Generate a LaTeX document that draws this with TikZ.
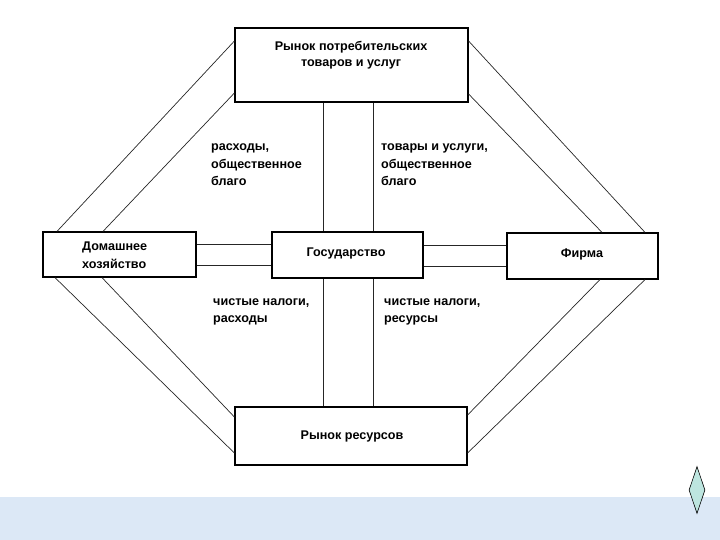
\documentclass[tikz,border=0pt]{standalone}
\usepackage{fontspec}
\setmainfont{Liberation Sans}
\usetikzlibrary{shapes.geometric}
\definecolor{band}{HTML}{DCE8F6}
\definecolor{gem}{HTML}{BDE5DF}
\begin{document}
\begin{tikzpicture}[x=1pt,y=-1pt,
  box/.style={draw=black,line width=1.2pt,fill=white,inner sep=0pt},
  txt/.style={font=\bfseries\fontsize{12.6}{17.5}\selectfont,inner sep=0pt,align=left},
  ctxt/.style={font=\bfseries\fontsize{12.6}{16}\selectfont,inner sep=0pt,align=center},
  link/.style={draw=black!85,line width=0.7pt}]
\useasboundingbox (0,0) rectangle (720,540);
\fill[band] (0,497) rectangle (720,540);
\node[diamond,draw=black,line width=0.6pt,fill=gem,minimum width=16pt,minimum height=47pt,inner sep=0pt,aspect=0.34] (gem) at (697,490) {};
% boxes
\node[box,minimum width=233pt,minimum height=74pt] (goods) at (351.5,65) {};
\node[box,minimum width=153pt,minimum height=45pt] (hh) at (119.5,254.5) {};
\node[box,minimum width=151pt,minimum height=46pt] (gov) at (347.5,255) {};
\node[box,minimum width=151pt,minimum height=46pt] (firm) at (582.5,256) {};
\node[box,minimum width=232pt,minimum height=58pt] (res) at (351,436) {};
% connectors
\draw[link] (goods.west |- 0,41) -- (hh.north -| 57,0);
\draw[link] (goods.west |- 0,93) -- (hh.north -| 103,0);
\draw[link] (goods.east |- 0,41) -- (firm.north -| 645,0);
\draw[link] (goods.east |- 0,94) -- (firm.north -| 602,0);
\draw[link] (hh.south -| 55,0) -- (res.west |- 0,453);
\draw[link] (hh.south -| 102,0) -- (res.west |- 0,417);
\draw[link] (firm.south -| 600,0) -- (res.east |- 0,415);
\draw[link] (firm.south -| 645,0) -- (res.east |- 0,453);
\draw[link] (goods.south -| 323,0) -- (gov.north -| 323,0);
\draw[link] (goods.south -| 373,0) -- (gov.north -| 373,0);
\draw[link] (gov.south -| 323,0) -- (res.north -| 323,0);
\draw[link] (gov.south -| 373,0) -- (res.north -| 373,0);
\draw[link] (hh.east |- 0,244) -- (gov.west |- 0,244);
\draw[link] (hh.east |- 0,265) -- (gov.west |- 0,265);
\draw[link] (gov.east |- 0,245) -- (firm.west |- 0,245);
\draw[link] (gov.east |- 0,266) -- (firm.west |- 0,266);
% texts
\node[ctxt] (tgoods) at (351,55) {Рынок потребительских\\товаров и услуг};
\node[txt,anchor=west] (thh) at (82,255) {Домашнее\\хозяйство};
\node[ctxt] (tgov) at (346,253) {Государство};
\node[ctxt] (tfirm) at (582,254) {Фирма};
\node[ctxt] (tres) at (352,436) {Рынок ресурсов};
\node[txt,anchor=west] (l1) at (211,165) {расходы,\\общественное\\благо};
\node[txt,anchor=west] (l2) at (381,165) {товары и услуги,\\общественное\\благо};
\node[txt,anchor=west] (l3) at (213,312) {чистые налоги,\\расходы};
\node[txt,anchor=west] (l4) at (384,312) {чистые налоги,\\ресурсы};
\end{tikzpicture}
\end{document}
